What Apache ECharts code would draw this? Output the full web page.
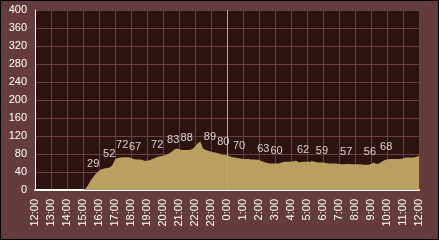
<!DOCTYPE html>
<html><head><meta charset="utf-8">
<script src="https://cdn.jsdelivr.net/npm/echarts@6/dist/echarts.min.js"></script>
<style>html,body{margin:0;padding:0;background:#000}#c{width:439px;height:240px}</style>
</head><body><div id="c"></div>
<script>
// 10-minute samples from 12:00 to next-day 12:00
const startTime = "12:00";
const stepMinutes = 10;
const values = [
 0,0,0,0,0,0, 0,0,0,0,0,0, 0,0,0,0,0,0,          // 12:00-14:50
 0,3,12,22,30,37,                                // 15:00
 43,46,48,49,50,55,                              // 16:00
 68,71,72,73,73,73,                              // 17:00
 71,69,68,68,67,65,                              // 18:00
 65,66,69,71,74,75,                              // 19:00
 76,78,80,84,89,92,                              // 20:00
 91,89,89,89,89,91,                              // 21:00
 96,104,108,92,89,87,                            // 22:00
 85,84,83,81,79,78,                              // 23:00
 77,75,73,72,71,70,                              // 0:00
 69,69,69,68,68,67,                              // 1:00
 67,64,62,60,59,59,                              // 2:00
 59,59,60,62,63,63,                              // 3:00
 63,64,65,61,62,63,                              // 4:00
 63,63,64,63,61,61,                              // 5:00
 61,60,59,59,59,59,                              // 6:00
 58,57,57,58,58,57,                              // 7:00
 57,57,57,56,56,56,                              // 8:00
 58,61,58,59,63,66,                              // 9:00
 68,69,69,69,69,69,                              // 10:00
 70,72,72,72,72,74,                              // 11:00
 76                                              // 12:00
];
const labelTimes = ["15:38","16:38","17:27","18:15","19:38","20:38","21:29","22:56","23:46","0:45","2:16","3:06","4:45","5:56","7:27","8:56","9:57"];
const labelValues = [29,52,72,67,72,83,88,89,80,70,63,60,62,59,57,56,68];
const yMin = 0, yMax = 400, yStep = 40;
const midnightLine = "0:00";

function toHours(t){
  const [h,m] = t.split(":").map(Number);
  return ((h - 12 + 24) % 24) + m/60;
}
const areaData = values.map((v,i)=>[i*stepMinutes/60, v]);
const labelData = labelTimes.map((t,i)=>[toHours(t), labelValues[i]]);

const chart = echarts.init(document.getElementById('c'));
const font = '"Liberation Sans", Arial, sans-serif';
chart.setOption({
  animation:false,
  backgroundColor:'#643c3c',
  graphic:[{type:'rect',shape:{x:0,y:0,width:439,height:240},style:{fill:'none',stroke:'#000',lineWidth:2},silent:true,z:100}],
  grid:{left:35,top:10,right:20,bottom:50,show:true,backgroundColor:'#2c1210',borderWidth:0},
  xAxis:{type:'value',min:0,max:24,interval:1,
    axisLine:{show:true,onZero:false,lineStyle:{color:'#ffffff',width:2}},
    axisTick:{show:false},
    splitLine:{show:true,lineStyle:{color:'#6b3f3f',width:1}},
    axisLabel:{rotate:90,color:'#ffffff',fontFamily:font,fontSize:11,margin:9,
      formatter:v=>((12+v)%24)+':00'}},
  yAxis:{type:'value',min:yMin,max:yMax,interval:yStep,
    axisLine:{show:true,lineStyle:{color:'#ffffff',width:1}},
    axisTick:{show:false},
    splitLine:{show:true,lineStyle:{color:'#6b3f3f',width:1}},
    axisLabel:{color:'#ffffff',fontFamily:font,fontSize:11,margin:8}},
  series:[
    {type:'line',data:areaData,showSymbol:false,lineStyle:{width:0},
     areaStyle:{color:'#b9a061',opacity:1},z:2,
     markLine:{silent:true,symbol:'none',label:{show:false},
       lineStyle:{color:'#8cbcaa',width:1,type:'solid'},
       data:[{xAxis:toHours(midnightLine)}]}},
    {type:'scatter',data:labelData,symbolSize:0,z:5,
     label:{show:true,position:'top',distance:7,color:'#ffffff',fontFamily:font,fontSize:11,
       formatter:p=>p.value[1]}}
  ]
});
</script></body></html>
